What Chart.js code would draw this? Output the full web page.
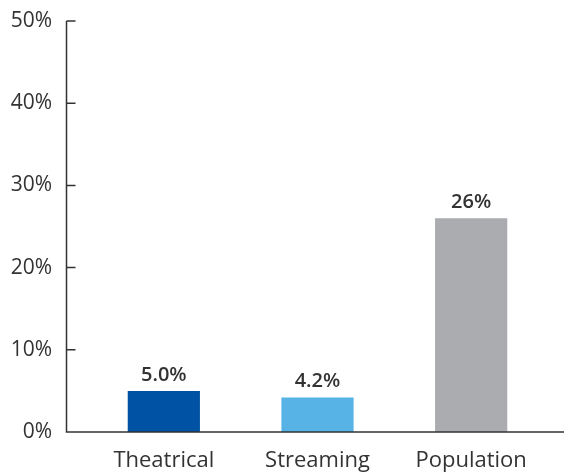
<!DOCTYPE html>
<html>
<head>
<meta charset="utf-8">
<script src="https://cdn.jsdelivr.net/npm/chart.js@4"></script>
<style>
    html, body { margin: 0; padding: 0; background: #fff; }
    #wrap { width: 564px; height: 473px; }
</style>
</head>
<body>
<div id="wrap"><canvas id="shareChart"></canvas></div>
<script>
const categories = ["Theatrical", "Streaming", "Population"];
const shares = [5.0, 4.2, 26];
const shareLabels = ["5.0%", "4.2%", "26%"];
const barColors = ["#0053a4", "#57b3e6", "#abacb0"];
const yTicks = [0, 10, 20, 30, 40, 50];

const axisColor = '#333333';
const fontFamily = '"Open Sans", Lato, sans-serif';

// Axis lines drawn by hand: the y line sits left of the bars, the x line runs to the edge
const axisLines = {
    id: 'axisLines',
    afterDatasetsDraw(chart) {
        const { ctx, scales } = chart;
        const y = scales.y;
        const x0 = 66.5;
        ctx.save();
        ctx.strokeStyle = axisColor;
        ctx.lineWidth = 1.5;
        ctx.beginPath();
        ctx.moveTo(x0, y.getPixelForValue(50));
        ctx.lineTo(x0, y.getPixelForValue(0));
        ctx.lineTo(chart.width, y.getPixelForValue(0));
        yTicks.forEach(t => {
            if (t === 0) return;
            const py = y.getPixelForValue(t);
            ctx.moveTo(x0, py);
            ctx.lineTo(x0 + 9, py);
        });
        ctx.stroke();

        // Value labels above each bar
        ctx.fillStyle = axisColor;
        ctx.font = '600 20px ' + fontFamily;
        ctx.textAlign = 'center';
        ctx.textBaseline = 'alphabetic';
        chart.getDatasetMeta(0).data.forEach((bar, i) => {
            ctx.fillText(shareLabels[i], bar.x, bar.y - 10);
        });
        ctx.restore();
    }
};

new Chart(document.getElementById('shareChart'), {
    type: 'bar',
    data: {
        labels: categories,
        datasets: [{
            data: shares,
            backgroundColor: barColors,
            borderWidth: 0,
            barPercentage: 0.47,
            categoryPercentage: 1
        }]
    },
    options: {
        responsive: true,
        maintainAspectRatio: false,
        animation: false,
        layout: { padding: { top: 21, right: 16, left: 0, bottom: 0 } },
        plugins: {
            legend: { display: false },
            tooltip: { enabled: false }
        },
        scales: {
            x: {
                grid: { display: false, drawTicks: false },
                border: { display: false },
                ticks: {
                    color: axisColor,
                    padding: 16,
                    font: { family: fontFamily, size: 22 }
                },
                afterFit(scale) {
                    scale.height = 41;
                    scale.paddingLeft = 0;
                    scale.paddingRight = 0;
                }
            },
            y: {
                min: 0,
                max: 50,
                afterBuildTicks(scale) {
                    scale.ticks = yTicks.map(v => ({ value: v }));
                },
                grid: { display: false, drawTicks: false },
                border: { display: false },
                ticks: {
                    color: axisColor,
                    padding: 35,
                    font: { family: fontFamily, size: 21 },
                    callback: v => v + '%'
                },
                afterFit(scale) {
                    scale.width = 87;
                    scale.paddingTop = 0;
                    scale.paddingBottom = 0;
                }
            }
        }
    },
    plugins: [axisLines]
});
</script>
</body>
</html>
